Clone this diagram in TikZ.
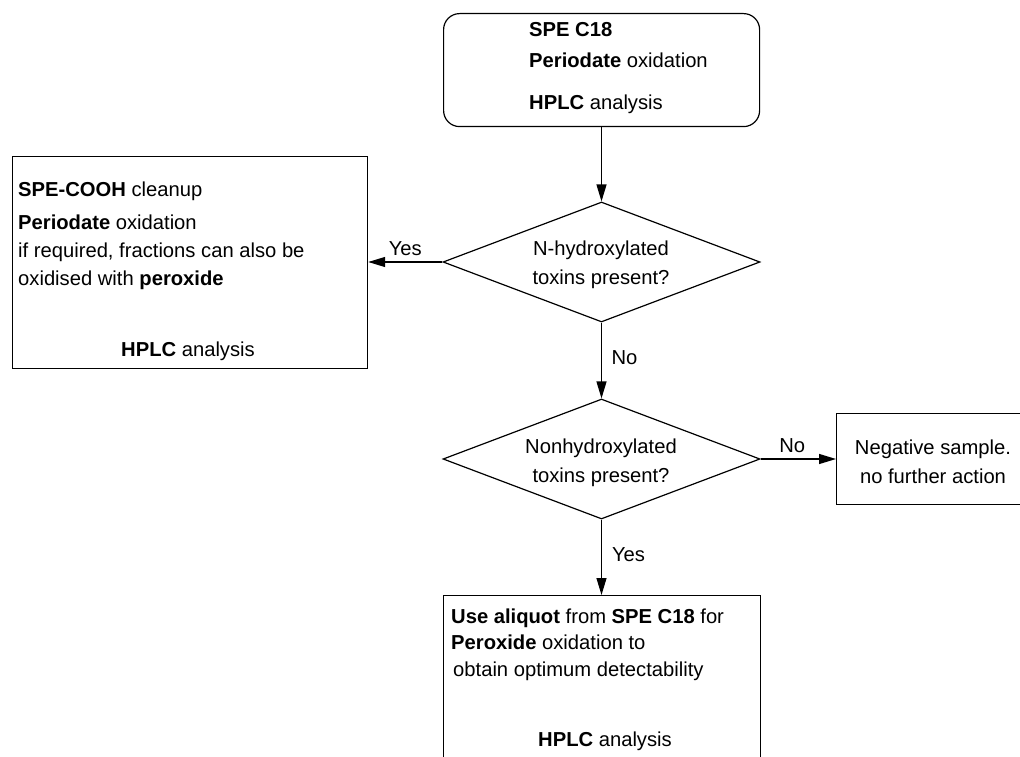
\documentclass[tikz,border=0pt]{standalone}
\usepackage{fontspec}
\setmainfont{Liberation Sans}
\usetikzlibrary{shapes.geometric,arrows.meta}
\begin{document}
\begin{tikzpicture}[x=1pt,y=-1pt,
  every node/.style={font=\fontsize{20.2}{24}\selectfont},
  box/.style={draw,line width=1.2pt,inner sep=0pt,anchor=north west},
  dia/.style={draw,diamond,line width=1.2pt,inner sep=0pt,minimum width=317pt,minimum height=120pt},
  txt/.style={inner sep=0pt,anchor=base west},
  ctxt/.style={inner sep=0pt,anchor=base},
  arr/.style={line width=1.2pt,-{Triangle[length=17pt,width=10pt]}}]
\useasboundingbox (0,0) rectangle (1020,757);
\clip (0,0) rectangle (1020,757);
% boxes
\node[box,rounded corners=16pt,minimum width=316pt,minimum height=113pt] (top) at (443,13) {};
\node[box,minimum width=355pt,minimum height=212pt] (left) at (12,156) {};
\node[dia] (d1) at (601.5,262) {};
\node[dia] (d2) at (601.5,459) {};
\node[box,minimum width=200pt,minimum height=91pt] (neg) at (836,413) {};
\node[box,minimum width=317pt,minimum height=220pt] (bot) at (443,595) {};
% texts
\node[txt] (t1) at (529,37) {\textbf{SPE C18}};
\node[txt] (t2) at (529,68) {\textbf{Periodate} oxidation};
\node[txt] (t3) at (529,110) {\textbf{HPLC} analysis};
\node[txt] (l1) at (18,196) {\textbf{SPE-COOH} cleanup};
\node[txt] (l2) at (18,229) {\textbf{Periodate} oxidation};
\node[txt] (l3) at (18,257) {if required, fractions can also be};
\node[txt] (l4) at (18,285) {oxidised with \textbf{peroxide}};
\node[ctxt] (l5) at (188,356) {\textbf{HPLC} analysis};
\node[ctxt] (q1a) at (601,255) {N-hydroxylated};
\node[ctxt] (q1b) at (601,284) {toxins present?};
\node[ctxt] (q2a) at (601,453) {Nonhydroxylated};
\node[ctxt] (q2b) at (601,482) {toxins present?};
\node[ctxt] (n1) at (933,454) {Negative sample.};
\node[ctxt] (n2) at (933,483) {no further action};
\node[txt] (b1) at (451,623) {\textbf{Use aliquot} from \textbf{SPE C18} for};
\node[txt] (b2) at (451,649) {\textbf{Peroxide} oxidation to};
\node[txt] (b3) at (453,676) {obtain optimum detectability};
\node[ctxt] (b4) at (605,746) {\textbf{HPLC} analysis};
% connectors
\draw[arr] (top.south -| d1.north) -- (d1.north);
\draw[arr] (d1.west) -- (d1.west -| left.east) node[ctxt,pos=0.5,yshift=7pt] (y1) {Yes};
\draw[arr] (d1.south) -- (d2.north) node[ctxt,pos=0.55,xshift=23pt] (no1) {No};
\draw[arr] (d2.east) -- (d2.east -| neg.west) node[ctxt,pos=0.42,yshift=7pt] (no2) {No};
\draw[arr] (d2.south) -- (d2.south |- bot.north) node[ctxt,pos=0.55,xshift=27pt] (y2) {Yes};
\end{tikzpicture}
\end{document}
